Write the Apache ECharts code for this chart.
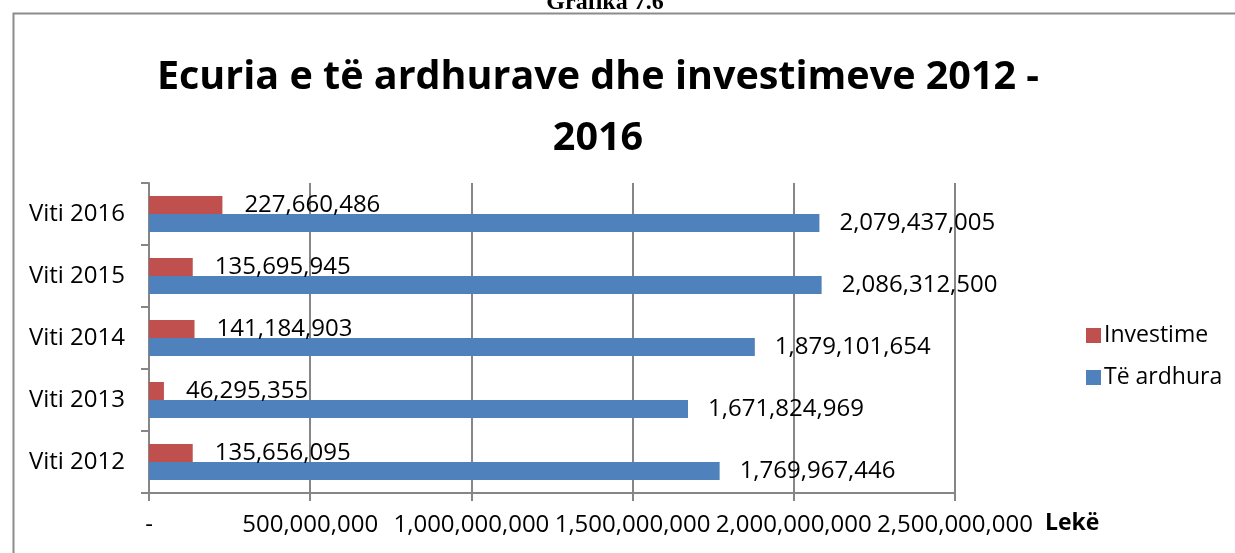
<!DOCTYPE html>
<html>
<head>
<meta charset="utf-8">
<script src="https://cdn.jsdelivr.net/npm/echarts@6/dist/echarts.min.js"></script>
<style>
  html, body { margin: 0; padding: 0; background: #fff; }
  #chart { width: 1235px; height: 553px; }
</style>
</head>
<body>
<div id="chart"></div>
<script>
const categories = ['Viti 2012', 'Viti 2013', 'Viti 2014', 'Viti 2015', 'Viti 2016'];
const investime = [135656095, 46295355, 141184903, 135695945, 227660486];
const teArdhura = [1769967446, 1671824969, 1879101654, 2086312500, 2079437005];
const seriesNames = ['Investime', 'Të ardhura'];
const xTicks = { min: 0, max: 2500000000, interval: 500000000 };

const FONT = 'Open Sans';
const fmt = v => Number(v).toLocaleString('en-US');

const chart = echarts.init(document.getElementById('chart'), null, { renderer: 'canvas' });
chart.setOption({
  animation: false,
  backgroundColor: '#fff',
  graphic: [
    { type: 'rect', left: 11, top: 11, shape: { width: 1240, height: 560 },
      style: { fill: 'none', stroke: '#8c8c8c', lineWidth: 2 } }
  ],
  title: [
    { text: 'Ecuria e të ardhurave dhe investimeve 2012 -\n2016', left: 593, top: 42, textAlign: 'center',
      textStyle: { fontFamily: FONT, fontWeight: 'bold', fontSize: 39.5, lineHeight: 61, color: '#000' } },
    { text: 'Grafika 7.6', left: 600, top: -14, textAlign: 'center',
      textStyle: { fontFamily: 'Liberation Serif', fontWeight: 'bold', fontSize: 24, color: '#000' } },
    { text: 'Lekë', left: 1040, top: 507,
      textStyle: { fontFamily: FONT, fontWeight: 'bold', fontSize: 23, color: '#000' } }
  ],
  legend: {
    orient: 'vertical', left: 1081, top: 319,
    itemWidth: 15, itemHeight: 15, itemGap: 19,
    icon: 'rect',
    data: seriesNames,
    textStyle: { fontFamily: FONT, fontSize: 23, color: '#000', padding: [0, 0, 0, -2] }
  },
  grid: { left: 149, right: 280, top: 183, bottom: 60, containLabel: false },
  xAxis: {
    type: 'value', min: xTicks.min, max: xTicks.max, interval: xTicks.interval,
    axisLine: { show: true, lineStyle: { color: '#868686', width: 2 } },
    axisTick: { show: true, length: 8, lineStyle: { color: '#868686', width: 2 } },
    splitLine: { show: true, lineStyle: { color: '#868686', width: 2 } },
    axisLabel: { margin: 20, fontFamily: FONT, fontSize: 24, color: '#000',
      formatter: v => v === 0 ? '-' : fmt(v) }
  },
  yAxis: {
    type: 'category', data: categories,
    axisLine: { show: true, lineStyle: { color: '#868686', width: 2 } },
    axisTick: { show: true, length: 8, lineStyle: { color: '#868686', width: 2 } },
    axisLabel: { margin: 24, fontFamily: FONT, fontSize: 24, color: '#000' }
  },
  series: [
    { name: seriesNames[0], type: 'bar', data: investime, barWidth: 18, barGap: '0%',
      itemStyle: { color: '#C0504D' },
      label: { show: true, position: 'right', distance: 22, fontFamily: FONT, fontSize: 24, color: '#000',
        formatter: p => fmt(p.value) } },
    { name: seriesNames[1], type: 'bar', data: teArdhura, barWidth: 18, barGap: '0%',
      itemStyle: { color: '#4F81BD' },
      label: { show: true, position: 'right', distance: 20, fontFamily: FONT, fontSize: 24, color: '#000',
        formatter: p => fmt(p.value) } }
  ]
});
</script>
</body>
</html>
